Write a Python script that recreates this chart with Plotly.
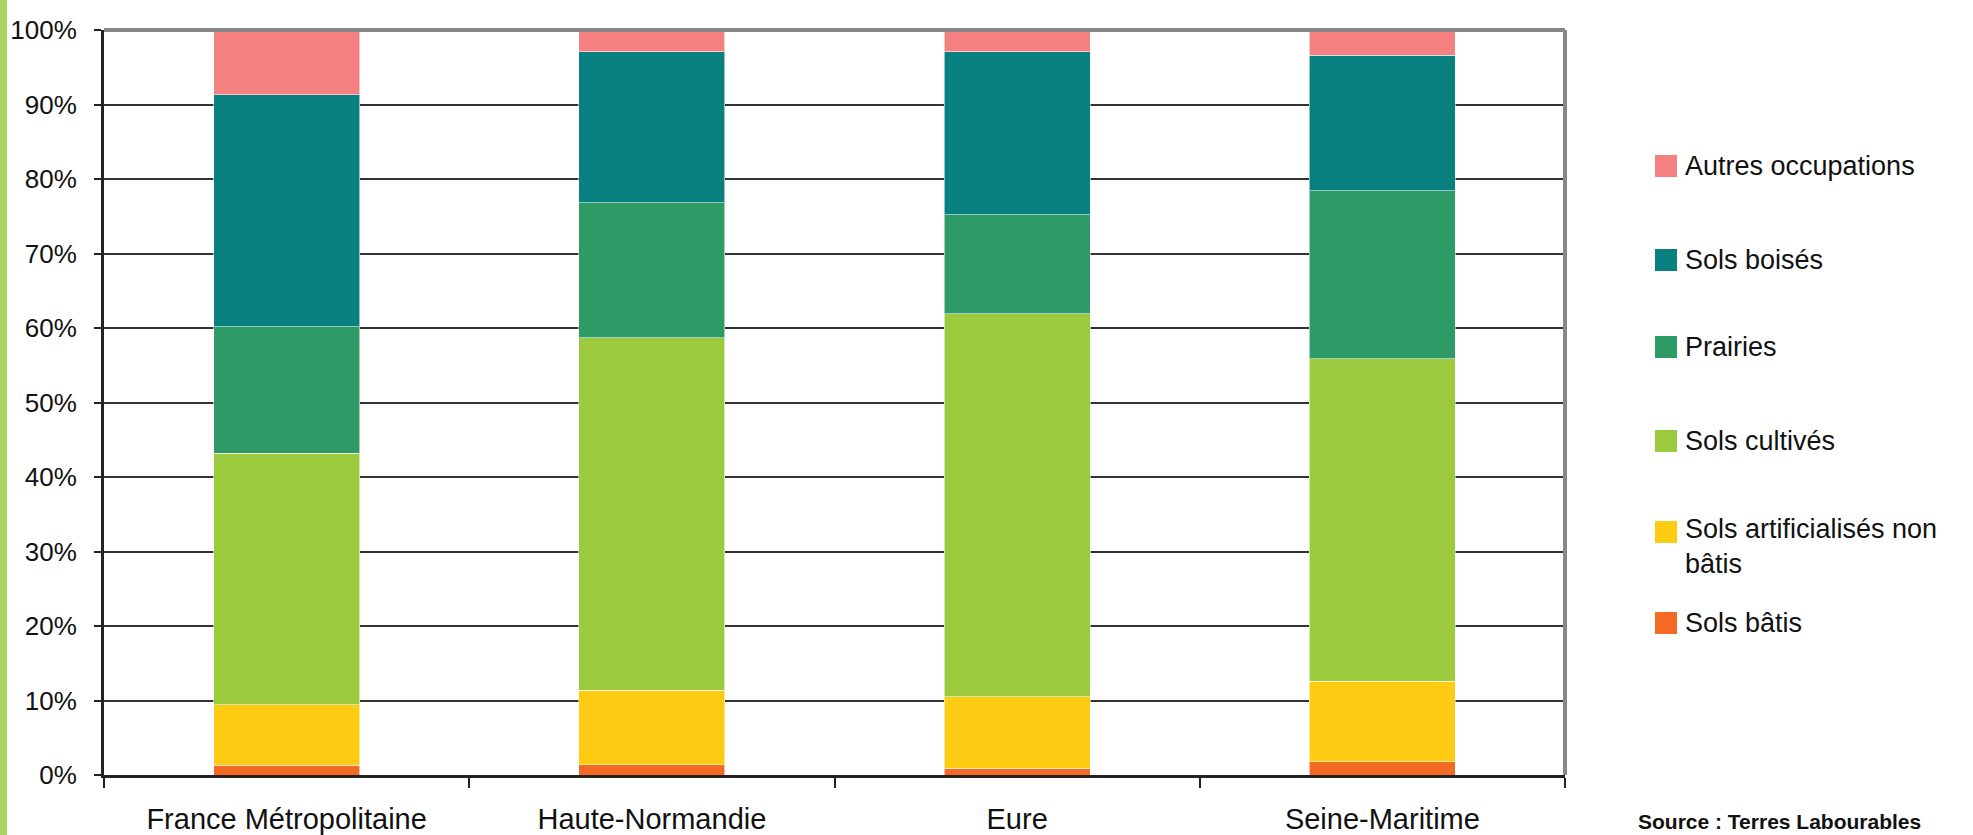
import plotly.graph_objects as go

# ---- data (percent of surface) ----
categories = ["France Métropolitaine", "Haute-Normandie", "Eure", "Seine-Maritime"]
sols_batis = [1.3, 1.35, 0.9, 1.75]
sols_artif_non_batis = [8.1, 10.05, 9.6, 10.85]
sols_cultives = [33.8, 47.3, 51.4, 43.3]
prairies = [17.0, 18.1, 13.3, 22.5]
sols_boises = [31.1, 20.3, 21.9, 18.2]
autres_occupations = [8.7, 2.9, 2.9, 3.4]

series_names = ["Sols bâtis", "Sols artificialisés non bâtis", "Sols cultivés",
                "Prairies", "Sols boisés", "Autres occupations"]
legend_labels = ["Sols bâtis", "Sols artificialisés non<br>bâtis", "Sols cultivés",
                 "Prairies", "Sols boisés", "Autres occupations"]
series_values = [sols_batis, sols_artif_non_batis, sols_cultives,
                 prairies, sols_boises, autres_occupations]
colors = ["#F26A24", "#FDCB12", "#9BCA3E", "#2E9B67", "#088080", "#F48080"]

y_ticks = list(range(0, 101, 10))
y_ticktext = [f"{v}%" for v in y_ticks]

W, H = 1973, 835
L, R, T, B = 104, 408, 30, 60
PW, PH = W - L - R, H - T - B


def px_x(px):
    return (px - L) / PW


def px_y(py):
    return (H - B - py) / PH


fig = go.Figure()
for name, vals, col in zip(series_names, series_values, colors):
    fig.add_trace(go.Bar(
        x=categories, y=vals, name=name, showlegend=False,
        marker=dict(color=col, line=dict(color="rgba(255,255,255,0.55)", width=1)),
    ))

shapes = []
annotations = []

# left green page bar
shapes.append(dict(type="rect", xref="paper", yref="paper",
                   x0=px_x(0), x1=px_x(7), y0=px_y(H), y1=px_y(0),
                   fillcolor="#ACD562", line=dict(width=0), layer="above"))
# top and right grey border of plot area
shapes.append(dict(type="line", xref="paper", yref="paper",
                   x0=0, x1=1, y0=1, y1=1, line=dict(color="#888888", width=4), layer="above"))
shapes.append(dict(type="line", xref="paper", yref="paper",
                   x0=1, x1=1, y0=0, y1=1, line=dict(color="#888888", width=4), layer="above"))

# manual legend (top item = last series)
row_y = [623, 532, 441, 347, 260, 166]
for i, (lab, col) in enumerate(zip(legend_labels, colors)):
    cy = row_y[i]
    shapes.append(dict(type="rect", xref="paper", yref="paper",
                       x0=px_x(1655), x1=px_x(1677), y0=px_y(cy + 11), y1=px_y(cy - 11),
                       fillcolor=col, line=dict(width=0)))
    if "<br>" in lab:
        annotations.append(dict(xref="paper", yref="paper", x=px_x(1683), y=px_y(cy - 20),
                                text=lab, showarrow=False, xanchor="left", yanchor="top",
                                align="left",
                                font=dict(family="Liberation Sans", size=27, color="#111")))
    else:
        annotations.append(dict(xref="paper", yref="paper", x=px_x(1683), y=px_y(cy),
                                text=lab, showarrow=False, xanchor="left", yanchor="middle",
                                align="left",
                                font=dict(family="Liberation Sans", size=27, color="#111")))

annotations.append(dict(xref="paper", yref="paper", x=px_x(1636), y=px_y(808),
                        text="<b>Source : Terres Labourables</b>", showarrow=False,
                        xanchor="left", yanchor="top",
                        font=dict(family="Liberation Sans", size=21, color="#111")))

fig.update_layout(
    width=W, height=H, autosize=False,
    margin=dict(l=L, r=R, t=T, b=B, pad=0),
    barmode="stack", bargap=0.6,
    paper_bgcolor="white", plot_bgcolor="white",
    showlegend=False,
    shapes=shapes, annotations=annotations,
    font=dict(family="Liberation Sans", color="#111"),
)
fig.update_xaxes(
    type="category", range=[-0.5, 3.5], automargin=False,
    showline=True, linecolor="#222", linewidth=3,
    ticks="outside", tickson="boundaries", ticklen=10, tickwidth=2, tickcolor="#222",
    showgrid=False,
    tickfont=dict(family="Liberation Sans", size=29, color="#111"),
    ticklabelstandoff=16,
)
fig.update_yaxes(
    range=[0, 100], tickvals=y_ticks, ticktext=y_ticktext, automargin=False,
    showline=True, linecolor="#222", linewidth=3,
    ticks="outside", ticklen=7, tickwidth=2, tickcolor="#222",
    showgrid=True, gridcolor="#333", gridwidth=2,
    zeroline=False,
    tickfont=dict(family="Liberation Sans", size=26, color="#111"),
    ticklabelstandoff=12,
)

fig.write_html("out.html", config={"displayModeBar": False},
               post_script="document.body.style.margin='0';document.body.style.overflow='hidden';")
